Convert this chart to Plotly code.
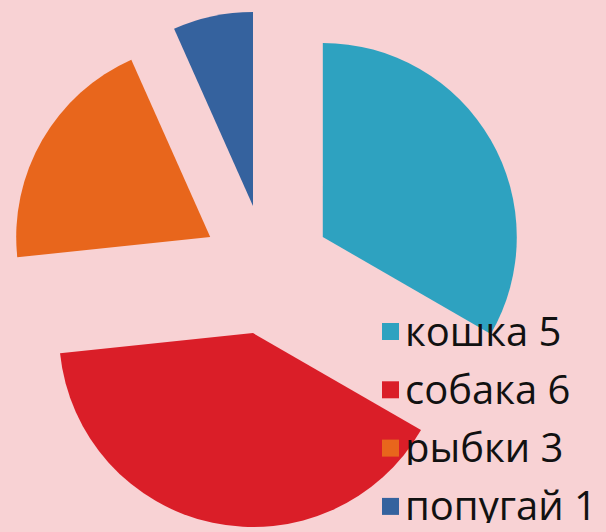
import plotly.graph_objects as go

# Pets survey: label, count, slice colour
labels = ["кошка", "собака", "рыбки", "попугай"]
values = [5, 6, 3, 1]
colors = ["#2EA2C0", "#DA1E28", "#E8661C", "#35629E"]

W, H = 606, 532
BG = "#F8D2D4"

fig = go.Figure()

fig.add_trace(go.Pie(
    labels=labels,
    values=values,
    sort=False,
    direction="clockwise",
    rotation=0,
    pull=[0.335] * len(values),
    marker=dict(colors=colors, line=dict(width=0)),
    textinfo="none",
    hoverinfo="label+value",
    showlegend=False,
    domain=dict(x=[7.5 / W, 525.5 / W], y=[1 - 528.5 / H, 1 - 10.5 / H]),
))

# Hand-built legend: coloured square + "label value" text
shapes = []
annotations = []
sq = 17
sq_x0 = 382
row0 = 331.5
step = 58.3
for i, (lab, val, col) in enumerate(zip(labels, values, colors)):
    cy = row0 + i * step
    shapes.append(dict(
        type="rect", xref="paper", yref="paper",
        x0=sq_x0 / W, x1=(sq_x0 + sq) / W,
        y0=1 - (cy + sq / 2) / H, y1=1 - (cy - sq / 2) / H,
        fillcolor=col, line=dict(width=0), layer="above",
    ))
    annotations.append(dict(
        xref="paper", yref="paper",
        x=403 / W, y=1 - (cy - 2) / H,
        xanchor="left", yanchor="middle",
        height=38, valign="middle",
        text=f"{lab} {val}", showarrow=False,
        font=dict(family="Open Sans", size=40, color="#111111"),
    ))

fig.update_layout(
    width=W, height=H,
    margin=dict(l=0, r=0, t=0, b=0),
    paper_bgcolor=BG,
    plot_bgcolor=BG,
    shapes=shapes,
    annotations=annotations,
)

fig.write_html("out.html")
